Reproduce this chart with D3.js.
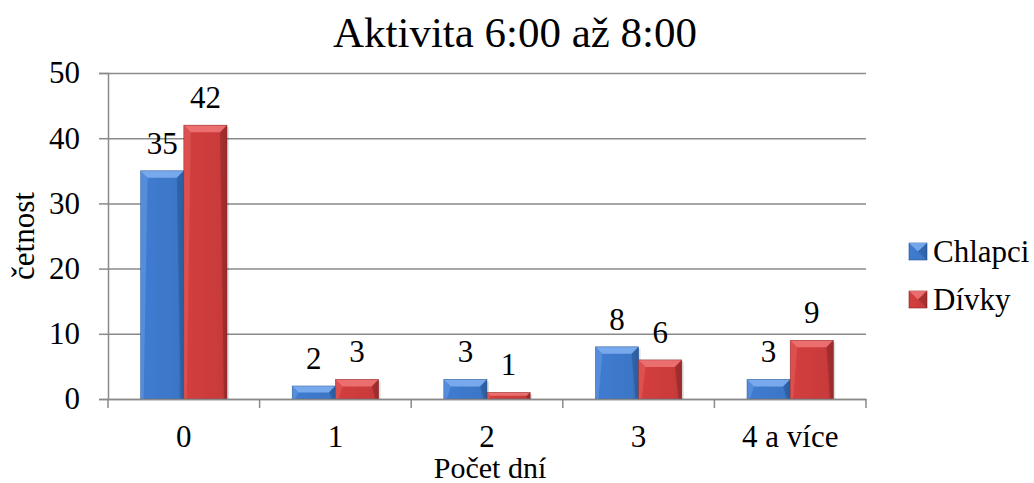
<!DOCTYPE html>
<html>
<head>
<meta charset="utf-8">
<script src="https://cdn.jsdelivr.net/npm/d3@7"></script>
</head>
<body style="margin:0; background:#fff">
<script>
const categories = ["0", "1", "2", "3", "4 a více"];
const seriesNames = ["Chlapci", "Dívky"];
const chlapci = [35, 2, 3, 8, 3];
const divky = [42, 3, 1, 6, 9];
const yTicks = [0, 10, 20, 30, 40, 50];

(function () {
  const w = 1034, h = 483;
  const plotLeft = 108, plotRight = 866, plotTop = 73, plotBottom = 399;
  const serif = "'Liberation Serif'";
  const gridColor = "#8a8a8a";

  const colors = {
    "Chlapci": { base: "#3C76C6", light: "#7EAEF0", dark: "#24518F" },
    "Dívky": { base: "#C93B3B", light: "#EE7474", dark: "#842323" }
  };

  const svg = d3.select("body").append("svg")
    .attr("width", w).attr("height", h)
    .style("display", "block");

  // all texts share the same serif face
  const txt = sel => sel.attr("font-family", "Liberation Serif").style("font-family", serif);

  const defs = svg.append("defs");
  seriesNames.forEach((s, i) => {
    const c = colors[s];
    const g = defs.append("linearGradient").attr("id", "grad" + i)
      .attr("x1", 0).attr("x2", 1).attr("y1", 0).attr("y2", 0);
    g.append("stop").attr("offset", "0%").attr("stop-color", d3.color(c.base).brighter(0.15));
    g.append("stop").attr("offset", "85%").attr("stop-color", c.base);
    g.append("stop").attr("offset", "100%").attr("stop-color", d3.color(c.base).darker(0.4));
  });

  const x = d3.scaleBand().domain(categories).range([plotLeft, plotRight])
    .paddingInner(0.43).paddingOuter(0.215);
  const xs = d3.scaleBand().domain(seriesNames).range([0, x.bandwidth()]);
  const y = d3.scaleLinear().domain([0, 50]).range([plotBottom, plotTop]);

  // grid
  svg.append("g")
    .attr("transform", "translate(" + plotLeft + ",0)")
    .call(d3.axisLeft(y).tickValues(yTicks).tickSize(-(plotRight - plotLeft)).tickFormat(""))
    .call(g => g.select(".domain").remove())
    .call(g => g.selectAll(".tick line").attr("stroke", gridColor).attr("stroke-width", 1.5));

  const data = categories.map((c, i) => ({ cat: c, values: [chlapci[i], divky[i]] }));

  const groups = svg.selectAll("g.group")
    .data(data)
    .join("g")
      .attr("class", "group")
      .attr("transform", d => "translate(" + x(d.cat) + ",0)");

  groups.each(function(d) {
    const g = d3.select(this);
    d.values.forEach((v, i) => {
      const s = seriesNames[i];
      const c = colors[s];
      const bx = xs(s), bw = xs.bandwidth();
      const by = y(v), bh = y(0) - y(v);
      const bev = Math.min(7, bh / 2);
      // shadow
      g.append("rect")
        .attr("x", bx + 2).attr("y", by + 2).attr("width", bw).attr("height", bh - 2)
        .attr("fill", "#000").attr("opacity", 0.12);
      g.append("rect")
        .attr("x", bx).attr("y", by).attr("width", bw).attr("height", bh)
        .attr("fill", "url(#grad" + i + ")");
      // top bevel
      g.append("path")
        .attr("d", `M${bx},${by} L${bx + bw},${by} L${bx + bw - bev},${by + bev} L${bx + bev},${by + bev} Z`)
        .attr("fill", c.light).attr("opacity", 0.9);
      // right bevel
      g.append("path")
        .attr("d", `M${bx + bw},${by} L${bx + bw},${by + bh} L${bx + bw - 3},${by + bh} L${bx + bw - bev},${by + bev} Z`)
        .attr("fill", c.dark).attr("opacity", 0.5);
      // left bevel
      g.append("path")
        .attr("d", `M${bx},${by} L${bx + bev},${by + bev} L${bx + 3},${by + bh} L${bx},${by + bh} Z`)
        .attr("fill", c.light).attr("opacity", 0.35);
      g.append("rect")
        .attr("x", bx).attr("y", by).attr("width", bw).attr("height", bh)
        .attr("fill", "none").attr("stroke", c.dark).attr("stroke-width", 0.6).attr("opacity", 0.7);
      g.append("text")
        .attr("x", bx + bw / 2).attr("y", by - 17)
        .attr("text-anchor", "middle")
        .call(txt)
        .style("font-size", "31px")
        .text(v);
    });
  });

  // y axis
  svg.append("g")
    .attr("transform", "translate(" + plotLeft + ",0)")
    .call(d3.axisLeft(y).tickValues(yTicks).tickSize(9).tickPadding(19))
    .attr("font-family", "Liberation Serif")
    .call(g => g.select(".domain").attr("stroke", gridColor).attr("stroke-width", 1.5))
    .call(g => g.selectAll(".tick line").attr("stroke", gridColor).attr("stroke-width", 1.5))
    .call(g => g.selectAll(".tick text").call(txt)
      .style("font-size", "31px").attr("fill", "#000"));

  // x axis
  const xAxis = svg.append("g")
    .attr("transform", "translate(0," + plotBottom + ")")
    .call(d3.axisBottom(x).tickSize(0))
    .attr("font-family", "Liberation Serif")
    .call(g => g.select(".domain").attr("stroke", gridColor).attr("stroke-width", 1.5))
    .call(g => g.selectAll(".tick text").call(txt)
      .attr("y", 48).attr("dy", 0)
      .style("font-size", "31px").attr("fill", "#000"));

  // category boundary ticks
  const bounds = categories.map(c => x(c) - x.step() * x.paddingInner() / 2).concat([plotRight]);
  xAxis.selectAll("line.bound")
    .data(bounds)
    .join("line")
      .attr("class", "bound")
      .attr("x1", d => d).attr("x2", d => d)
      .attr("y1", 0).attr("y2", 9)
      .attr("stroke", gridColor).attr("stroke-width", 1.5);

  // title
  svg.append("text")
    .attr("x", 515).attr("y", 47)
    .attr("text-anchor", "middle")
    .attr("textLength", 364).attr("lengthAdjust", "spacingAndGlyphs")
    .call(txt)
    .style("font-size", "43px")
    .text("Aktivita 6:00 až 8:00");

  // axis titles
  svg.append("text")
    .attr("transform", "translate(34,236) rotate(-90)")
    .attr("text-anchor", "middle")
    .call(txt)
    .style("font-size", "31px")
    .text("četnost");

  svg.append("text")
    .attr("x", 490).attr("y", 478)
    .attr("text-anchor", "middle")
    .call(txt)
    .style("font-size", "30px")
    .text("Počet dní");

  // legend
  const legend = svg.selectAll("g.legend")
    .data(seriesNames)
    .join("g")
      .attr("class", "legend")
      .attr("transform", (d, i) => "translate(909," + (262 + i * 48) + ")");

  legend.append("rect")
    .attr("x", 0).attr("y", -19).attr("width", 18).attr("height", 17)
    .attr("fill", (d, i) => "url(#grad" + i + ")")
    .attr("stroke", d => colors[d].dark).attr("stroke-width", 0.6);
  legend.append("path")
    .attr("d", "M0,-19 L18,-19 L9,-10.5 Z")
    .attr("fill", d => colors[d].light).attr("opacity", 0.85);
  legend.append("path")
    .attr("d", "M18,-19 L18,-2 L9,-10.5 Z")
    .attr("fill", d => colors[d].dark).attr("opacity", 0.45);

  legend.append("text")
    .attr("x", 24).attr("y", 0)
    .call(txt)
    .style("font-size", "31px")
    .text(d => d);
})();
</script>
</body>
</html>
